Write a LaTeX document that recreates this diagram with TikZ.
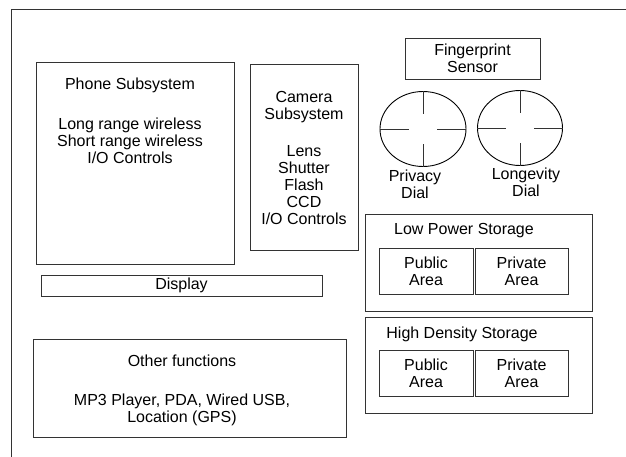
\documentclass[tikz,border=0pt]{standalone}
\usepackage{fontspec}
\setmainfont{Liberation Sans}
\usetikzlibrary{positioning,shapes.geometric}

\begin{document}
\begin{tikzpicture}[x=1pt, y=-1pt,
    every node/.style={font=\fontsize{16}{17}\selectfont},
    box/.style={draw=black!80, line width=0.9pt, rectangle, inner sep=0pt, align=center},
    dial/.style={draw=black, line width=0.9pt, ellipse, inner sep=0pt,
                 minimum width=86, minimum height=75},
    txt/.style={align=center, inner sep=0pt},
    tick/.style={draw=black!80, line width=0.9pt}
    ]
\useasboundingbox (0,0) rectangle (626,457);
% \draw[help lines] (0,0) grid[step=50] (626,457);
\draw[black!80, line width=0.9pt] (626,9) -- (11,9) -- (11,457);

% left column
\node[box, minimum width=198, minimum height=202] (phone) at (135,163) {};
\node[txt] (phonetxt) at (130,121)
  {Phone Subsystem\\[23pt]Long range wireless\\Short range wireless\\I/O Controls};
\node[box, minimum width=108, minimum height=186] (cam) at (304,157) {};
\node[txt] (camtxt) at (304,157.5)
  {Camera\\Subsystem\\[20pt]Lens\\Shutter\\Flash\\CCD\\I/O Controls};
\node[box, minimum width=281, minimum height=21] (disp) at (181.5,285.5) {Display};
\node[box, minimum width=313, minimum height=98] (other) at (189.5,388) {};
\node[txt] (othertxt) at (182,390)
  {Other functions\\[22pt]MP3 Player, PDA, Wired USB,\\Location (GPS)};

% sensor and dials
\node[box, minimum width=135, minimum height=41] (fp) at (472.5,58.5) {Fingerprint\\Sensor};
\node[dial] (priv) at (423,129) {};
\node[dial, minimum width=85] (long) at (520,128) {};
\foreach \d in {priv,long}{
  \draw[tick] (\d.north) -- ++(0,23);
  \draw[tick] (\d.south) -- ++(0,-23);
  \draw[tick] (\d.west) -- ++(29,0);
  \draw[tick] (\d.east) -- ++(-29,0);
}
\node[txt] (privlbl) at (415,184) {Privacy\\Dial};
\node[txt] (longlbl) at (526,182) {Longevity\\Dial};

% storage
\node[box, minimum width=227, minimum height=97] (lp) at (478.5,262.5) {};
\node[txt] (lptitle) at (464,230.5) {Low Power Storage};
\node[box, minimum width=94, minimum height=46] (lppub) at (426,271) {Public\\Area};
\node[box, minimum width=93, minimum height=46] (lppriv) at (521.5,271) {Private\\Area};

\node[box, minimum width=227, minimum height=96] (hd) at (478.5,365) {};
\node[txt] (hdtitle) at (462,334.5) {High Density Storage};
\node[box, minimum width=94, minimum height=46] (hdpub) at (426,373) {Public\\Area};
\node[box, minimum width=93, minimum height=46] (hdpriv) at (521.5,373) {Private\\Area};
\end{tikzpicture}
\end{document}
